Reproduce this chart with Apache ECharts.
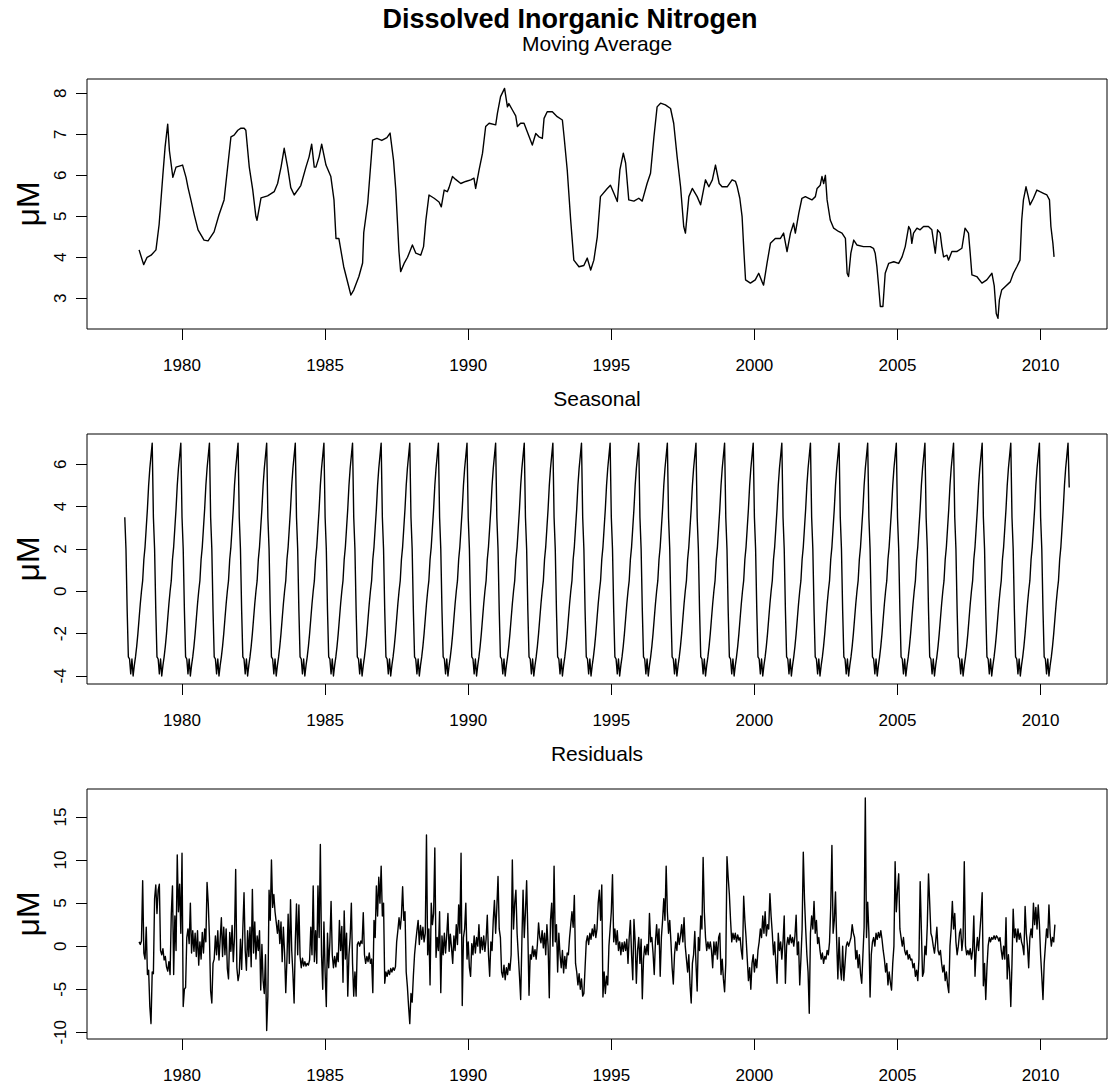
<!DOCTYPE html>
<html>
<head>
<meta charset="utf-8">
<title>Dissolved Inorganic Nitrogen</title>
<script src="https://cdn.jsdelivr.net/npm/echarts@6/dist/echarts.min.js"></script>
<style>
  html, body { margin: 0; padding: 0; background: #fff; }
  #chart { width: 1112px; height: 1089px; }
</style>
</head>
<body>
<div id="chart"></div>
<script>
// ---- Tick labels ----
const xTicks = [1980, 1985, 1990, 1995, 2000, 2005, 2010];
const maTicks = [3, 4, 5, 6, 7, 8];
const seasonalTicks = [-4, -2, 0, 2, 4, 6];
const residualTicks = [-10, -5, 0, 5, 10, 15];

// ---- Moving average (year, µM) ----
const movingAverage = [
  [1978.50,4.18],[1978.66,3.82],[1978.78,4.00],[1978.92,4.05],[1979.09,4.18],[1979.20,4.80],[1979.33,6.00],[1979.41,6.70],[1979.50,7.25],[1979.56,6.60],[1979.68,5.95],[1979.79,6.20],[1980.02,6.25],[1980.14,5.95],[1980.21,5.70],[1980.31,5.40],[1980.43,5.03],[1980.56,4.67],[1980.77,4.42],[1980.91,4.40],
  [1981.12,4.62],[1981.29,5.03],[1981.47,5.40],[1981.61,6.30],[1981.71,6.94],[1981.82,6.98],[1981.95,7.10],[1982.06,7.15],[1982.17,7.15],[1982.23,7.10],[1982.35,6.20],[1982.47,5.65],[1982.58,5.00],[1982.62,4.90],[1982.76,5.45],[1982.99,5.50],
  [1983.22,5.60],[1983.34,5.80],[1983.46,6.20],[1983.57,6.66],[1983.69,6.20],[1983.80,5.70],[1983.92,5.52],[1984.15,5.75],[1984.33,6.20],[1984.44,6.45],[1984.53,6.76],[1984.62,6.20],[1984.68,6.20],[1984.79,6.45],[1984.88,6.76],[1985.03,6.25],[1985.20,5.97],[1985.31,5.40],[1985.38,4.46],[1985.48,4.46],[1985.65,3.77],[1985.90,3.08],
  [1986.00,3.20],[1986.18,3.53],[1986.31,3.86],[1986.35,4.60],[1986.49,5.33],[1986.66,6.86],[1986.81,6.90],[1986.98,6.85],[1987.16,6.92],[1987.27,7.03],[1987.39,6.37],[1987.47,5.64],[1987.53,4.83],[1987.58,4.14],[1987.64,3.65],[1987.76,3.85],[1987.88,4.00],
  [1988.05,4.30],[1988.17,4.10],[1988.34,4.05],[1988.44,4.26],[1988.52,4.90],[1988.63,5.52],[1988.81,5.44],[1988.98,5.35],[1989.06,5.23],[1989.16,5.64],[1989.27,5.60],[1989.33,5.70],[1989.45,5.97],[1989.56,5.90],[1989.74,5.80],[1989.91,5.85],
  [1990.09,5.89],[1990.20,5.93],[1990.26,5.68],[1990.38,6.13],[1990.50,6.54],[1990.61,7.19],[1990.73,7.27],[1990.96,7.23],[1991.02,7.51],[1991.13,7.92],[1991.27,8.12],[1991.37,7.67],[1991.42,7.75],[1991.54,7.60],[1991.66,7.45],[1991.72,7.19],[1991.83,7.27],[1991.95,7.27],
  [1992.07,7.05],[1992.24,6.74],[1992.36,7.02],[1992.47,6.94],[1992.59,6.90],[1992.65,7.39],[1992.76,7.55],[1992.94,7.55],[1993.11,7.43],[1993.29,7.35],[1993.35,6.94],[1993.46,6.13],[1993.58,4.91],[1993.69,3.93],[1993.87,3.77],
  [1994.04,3.80],[1994.16,3.98],[1994.28,3.69],[1994.39,3.93],[1994.51,4.50],[1994.62,5.48],[1994.86,5.68],[1994.97,5.76],[1995.09,5.56],[1995.21,5.36],[1995.30,6.13],[1995.42,6.54],[1995.50,6.30],[1995.61,5.40],[1995.79,5.37],[1995.96,5.44],
  [1996.08,5.37],[1996.25,5.80],[1996.37,6.05],[1996.49,6.94],[1996.60,7.67],[1996.72,7.76],[1996.89,7.72],[1997.07,7.63],[1997.18,7.27],[1997.30,6.45],[1997.42,5.72],[1997.53,4.75],[1997.59,4.59],[1997.71,5.48],[1997.83,5.68],
  [1998.00,5.48],[1998.12,5.28],[1998.29,5.89],[1998.41,5.72],[1998.53,5.89],[1998.64,6.25],[1998.77,5.80],[1998.87,5.72],[1999.05,5.72],[1999.22,5.89],[1999.34,5.85],[1999.40,5.72],[1999.49,5.44],[1999.57,4.99],[1999.63,4.18],[1999.69,3.45],[1999.86,3.37],
  [2000.03,3.45],[2000.15,3.61],[2000.27,3.40],[2000.32,3.32],[2000.44,3.85],[2000.56,4.34],[2000.73,4.46],[2000.91,4.46],[2001.02,4.59],[2001.14,4.14],[2001.26,4.59],[2001.37,4.83],[2001.43,4.59],[2001.55,5.07],[2001.66,5.44],[2001.78,5.48],[2001.90,5.44],
  [2002.01,5.40],[2002.13,5.48],[2002.19,5.68],[2002.30,5.76],[2002.36,5.97],[2002.42,5.80],[2002.48,6.00],[2002.54,5.40],[2002.65,4.91],[2002.77,4.71],[2002.94,4.63],[2003.06,4.59],[2003.18,4.46],[2003.24,3.61],[2003.29,3.53],[2003.37,4.10],[2003.47,4.42],[2003.58,4.30],[2003.81,4.26],
  [2004.05,4.26],[2004.16,4.22],[2004.22,4.10],[2004.28,3.77],[2004.34,3.30],[2004.40,2.80],[2004.49,2.80],[2004.57,3.61],[2004.69,3.85],[2004.87,3.89],[2005.04,3.85],[2005.16,4.01],[2005.27,4.26],[2005.39,4.75],[2005.45,4.67],[2005.50,4.34],[2005.56,4.59],[2005.68,4.71],[2005.79,4.67],[2005.91,4.75],
  [2006.08,4.75],[2006.20,4.67],[2006.32,4.10],[2006.40,4.67],[2006.49,4.59],[2006.55,4.26],[2006.61,4.01],[2006.73,4.05],[2006.78,3.93],[2006.90,4.14],[2007.07,4.14],[2007.25,4.22],[2007.36,4.71],[2007.48,4.59],[2007.54,4.10],[2007.60,3.57],[2007.77,3.53],[2007.95,3.37],
  [2008.12,3.45],[2008.30,3.61],[2008.38,3.30],[2008.45,2.63],[2008.51,2.51],[2008.56,2.96],[2008.64,3.20],[2008.76,3.28],[2008.94,3.40],[2009.05,3.61],[2009.17,3.77],[2009.28,3.93],[2009.34,4.91],[2009.40,5.40],[2009.49,5.72],[2009.57,5.48],[2009.63,5.28],[2009.75,5.44],[2009.87,5.64],[2009.98,5.60],
  [2010.10,5.56],[2010.22,5.52],[2010.31,5.40],[2010.36,4.75],[2010.43,4.34],[2010.47,4.01]
];

// ---- Seasonal component: one year of half-month values, the same every year ----
const seasonalCycle = [3.5, 2.0, -0.9, -3.1, -3.2, -3.9, -3.2, -4.0, -3.5, -3.1, -2.6, -2.0,
                       -1.3, -0.6, 0.0, 0.5, 1.5, 2.1, 3.0, 3.9, 5.0, 5.8, 6.4, 7.0];
const seasonalFirstYear = 1978;
const seasonalLastYear = 2010;
const seasonalFinal = 4.9;   // value at the start of 2011

// ---- Residuals, half-monthly from mid-1978 (one row per year) ----
const residualStart = 1978.5;
const residualsPerYear = 24;
const residuals = [
  0.5,0.2,0.6,7.6,-0.8,-1.5,2.2,-3.3,-2.8,-7.0,-9.0,-3.0,-3.2,5.5,7.1,3.8,6.5,7.2,-0.5,-1.0,-0.3,-1.6,-1.2,-2.4,
  -2.9,-1.8,-3.3,3.7,7.0,-3.3,3.5,-0.5,10.6,4.0,7.2,1.5,10.8,-7.0,-5.0,-4.8,1.0,2.0,0.3,5.0,-0.8,1.8,-0.6,1.5,
  -1.2,1.8,-2.2,0.5,-1.5,1.6,-0.8,2.0,0.5,7.4,5.0,1.0,-5.2,-6.6,-2.0,-1.5,1.2,-1.0,1.8,-1.6,0.8,3.3,-1.2,2.2,
  -1.0,2.0,-2.6,-3.8,1.6,-0.6,2.4,-1.8,1.0,8.9,-2.5,-4.0,-3.2,0.8,-2.7,2.0,6.2,-0.5,-2.8,1.8,-1.2,2.2,-2.4,6.6,
  -0.8,2.8,-1.5,1.2,-0.5,1.8,-5.1,0.2,-4.0,-5.5,-1.0,-9.8,-5.8,6.5,3.0,10.0,4.5,6.0,4.0,2.8,1.5,3.0,0.3,2.8,
  -1.8,2.2,-0.8,-5.4,-1.5,3.7,-2.0,5.4,-0.5,-3.2,-6.6,0.5,4.9,-1.0,4.8,-1.2,-2.5,-1.4,-2.3,-1.8,-2.3,-2.0,-2.2,-1.6,
  2.2,-1.0,7.0,-1.8,1.8,-2.0,7.0,1.0,11.8,-1.0,-5.0,2.8,-3.0,-7.0,1.5,-2.5,0.5,5.2,-1.0,-2.5,-1.2,-2.4,-0.8,-1.8,
  3.0,-0.5,2.3,-4.2,4.1,-1.5,1.5,-5.8,-1.0,1.0,5.0,-2.0,-5.8,-3.0,-5.8,0.2,0.5,0.0,0.6,0.3,3.9,-1.0,-2.0,-1.2,
  -1.8,-0.8,-2.0,-1.5,-5.4,3.0,1.0,7.0,3.5,8.0,5.0,9.3,3.5,5.0,-4.3,-3.0,-3.5,-2.8,-3.3,-2.6,-3.0,-2.5,-2.8,-2.4,
  0.5,1.8,3.3,2.0,3.5,6.9,3.0,4.0,-3.0,-4.7,-7.0,-9.0,-5.5,-6.5,-3.5,-1.0,0.5,1.8,3.0,0.2,2.4,0.8,2.2,0.5,
  1.5,12.9,-1.0,2.0,-4.5,5.0,2.5,3.8,11.4,-1.3,1.0,-0.5,4.0,-5.4,1.2,-1.0,1.5,-0.8,1.3,3.8,-0.6,1.4,-0.2,-2.0,
  1.2,-0.5,2.5,0.2,4.8,1.5,10.8,-6.9,1.0,2.0,5.0,-1.5,0.5,-2.5,-3.5,0.3,-1.0,1.2,-0.8,1.0,0.0,2.5,-0.8,1.0,
  -0.4,1.2,-0.6,0.8,3.6,-1.0,-3.5,0.5,-0.5,3.0,5.3,1.5,4.5,8.1,2.0,1.0,-3.0,-3.6,-2.2,-3.9,-2.5,-3.3,-2.0,-2.8,
  -1.0,10.0,2.0,5.0,6.5,1.5,-1.0,-3.5,-6.2,0.5,6.5,1.0,4.0,7.6,1.5,-5.7,-1.0,-1.5,0.0,-1.2,-0.4,-1.5,0.2,2.7,
  1.0,0.4,1.8,-0.2,1.5,-1.0,2.5,0.0,-6.0,3.0,5.0,0.0,9.3,0.5,2.5,-3.0,1.5,-1.0,-2.5,-0.5,-3.1,-1.2,-2.6,-0.8,
  -1.0,1.0,2.5,4.0,2.2,5.9,-2.0,-3.0,-4.5,-3.2,-5.0,-3.8,-5.8,-5.5,-2.5,0.5,1.2,0.2,1.5,0.8,2.0,1.2,2.5,1.0,
  2.0,5.0,6.5,3.0,7.1,-5.9,-3.0,-5.5,-3.5,-4.5,0.0,2.0,4.0,8.3,0.5,2.0,0.2,1.8,-0.5,0.5,-1.0,0.4,-0.6,0.5,
  -0.5,0.8,-2.0,1.0,3.0,-1.0,-3.9,3.1,0.5,-4.3,-0.5,1.0,-2.0,0.8,-6.1,-1.5,0.0,-1.0,0.2,-1.0,3.8,0.5,1.0,-0.8,
  -3.3,0.5,2.5,0.2,2.0,-3.5,1.0,3.0,5.5,3.0,9.3,4.0,1.5,3.0,0.5,-2.5,-4.4,-1.0,0.5,-0.5,1.5,0.2,1.2,2.5,
  0.5,3.3,0.0,-1.5,-3.0,-1.0,-4.5,-6.6,-2.0,-1.0,1.7,-2.0,-5.2,1.0,-0.5,3.5,2.0,10.3,4.0,1.0,-0.5,0.5,-0.3,0.5,
  -0.5,-2.5,0.5,-1.0,0.5,-1.5,1.0,1.5,-3.3,-1.5,-3.8,-5.3,-2.0,10.4,8.0,6.0,3.0,0.5,1.5,0.8,1.5,0.5,1.3,0.7,
  1.0,-0.5,-1.5,5.8,3.0,1.0,-1.5,-4.0,-2.5,-5.0,-2.0,-1.0,-3.0,-1.5,-2.5,-0.5,0.5,2.0,1.0,3.5,1.5,4.0,1.2,2.5,
  2.0,6.1,3.5,1.5,-1.0,0.5,-2.0,-4.3,1.5,-0.5,0.5,-1.5,0.5,3.5,-4.3,0.0,1.0,0.2,1.3,0.4,1.0,0.0,1.2,3.6,
  -1.0,0.5,-4.5,-1.5,2.0,10.9,5.5,2.0,-1.0,-3.0,-7.8,1.5,3.5,2.0,5.2,1.5,3.0,0.3,1.0,-0.5,-1.5,-0.8,-2.0,-1.2,
  -1.5,-0.5,-1.0,0.5,4.5,11.7,1.5,3.0,6.3,0.5,-3.8,1.0,-2.5,-3.9,0.0,-4.0,-2.0,0.0,0.5,0.0,0.5,1.0,2.5,1.5,
  1.0,-1.5,-0.5,-2.5,-1.0,-3.2,-4.3,-1.0,2.2,17.2,1.0,5.1,1.5,-5.9,-1.0,0.5,1.0,0.0,1.5,0.8,1.6,1.0,1.8,0.8,
  -0.5,-1.5,-3.0,-2.0,-4.5,-3.0,-4.2,-5.1,-2.0,0.0,9.8,4.0,6.5,8.4,2.0,1.0,0.0,1.0,-0.5,-1.0,-0.5,-1.5,-1.0,-1.6,
  -1.5,-2.5,-2.0,-3.5,-2.8,-4.0,-1.5,7.5,2.0,-3.5,-3.0,0.0,-1.0,2.5,8.4,5.0,1.5,1.0,0.0,-0.8,0.5,2.2,-0.5,-1.0,
  -0.5,-2.0,-3.0,-2.2,-4.0,-3.0,-4.5,-5.4,0.0,2.0,5.2,2.0,3.8,0.5,-1.0,0.0,1.5,2.0,-0.5,1.0,9.8,0.0,-1.0,-0.5,
  -1.0,-0.3,-1.5,-0.5,3.5,-3.5,-0.5,1.0,-0.5,1.5,3.5,6.2,-4.6,-2.0,-6.2,-2.5,0.0,1.0,0.5,1.0,0.8,1.2,0.8,1.2,
  1.0,0.6,1.0,-0.5,-1.5,0.0,-1.5,3.3,-3.8,-1.0,-3.0,-7.0,-2.0,4.3,1.0,2.0,0.5,2.0,0.8,1.5,0.5,0.0,-1.0,4.6,
  1.5,0.0,-2.5,1.0,2.0,1.0,5.0,2.5,4.5,2.0,4.8,2.5,-1.0,-3.5,-6.2,-2.0,0.0,2.0,1.0,4.8,1.5,0.0,1.0,0.5,
  2.5
];

// ---- Build [year, value] series ----
const seasonalData = [];
for (let y = seasonalFirstYear; y <= seasonalLastYear; y++) {
  seasonalCycle.forEach((v, k) => seasonalData.push([y + k / seasonalCycle.length, v]));
}
seasonalData.push([seasonalLastYear + 1, seasonalFinal]);

const residualData = residuals.map((v, i) => [residualStart + i / residualsPerYear, v]);

// ---- Layout ----
const FONT = '"Liberation Sans", Arial, Helvetica, sans-serif';
const X_MIN = 1976.68, X_MAX = 2012.32;
const PLOT_LEFT = 87, PLOT_WIDTH = 1020, PLOT_HEIGHT = 250;

const panels = [
  { name: 'Moving Average', top: 79,  yMin: 2.25,  yMax: 8.35,  ticks: maTicks,       data: movingAverage },
  { name: 'Seasonal',       top: 434, yMin: -4.38, yMax: 7.43,  ticks: seasonalTicks, data: seasonalData },
  { name: 'Residuals',      top: 789, yMin: -10.78, yMax: 18.25, ticks: residualTicks, data: residualData }
];

const chart = echarts.init(document.getElementById('chart'), null, { renderer: 'svg' });

const option = {
  animation: false,
  backgroundColor: '#fff',
  title: [
    {
      text: 'Dissolved Inorganic Nitrogen',
      left: 570, top: 5, textAlign: 'center', padding: 0,
      textStyle: { fontFamily: FONT, fontSize: 27, fontWeight: 'bold', color: '#000' }
    }
  ].concat(panels.map(p => ({
    text: p.name,
    left: PLOT_LEFT + PLOT_WIDTH / 2, top: p.top - 46, textAlign: 'center', padding: 0,
    textStyle: { fontFamily: FONT, fontSize: 21, fontWeight: 'normal', color: '#000' }
  }))),
  grid: panels.map(p => ({
    left: PLOT_LEFT, top: p.top, width: PLOT_WIDTH, height: PLOT_HEIGHT,
    show: true, borderColor: '#000', borderWidth: 1, backgroundColor: 'transparent'
  })),
  xAxis: panels.map((p, i) => ({
    gridIndex: i, type: 'value', min: X_MIN, max: X_MAX,
    axisLine: { show: false, onZero: false },
    splitLine: { show: false },
    axisTick: { show: true, length: 11, customValues: xTicks, lineStyle: { color: '#000', width: 1 } },
    axisLabel: {
      show: true, customValues: xTicks, margin: 28,
      formatter: v => String(v),
      fontFamily: FONT, fontSize: 17, color: '#000'
    }
  })),
  yAxis: panels.map((p, i) => ({
    gridIndex: i, type: 'value', min: p.yMin, max: p.yMax,
    name: 'μM', nameLocation: 'middle', nameRotate: 90, nameGap: 42,
    nameTextStyle: { fontFamily: FONT, fontSize: 32, color: '#000' },
    axisLine: { show: false, onZero: false },
    splitLine: { show: false },
    axisTick: { show: true, length: 11, customValues: p.ticks, lineStyle: { color: '#000', width: 1 } },
    axisLabel: {
      show: true, customValues: p.ticks, rotate: 90, margin: 18,
      formatter: v => String(v),
      fontFamily: FONT, fontSize: 17, color: '#000'
    }
  })),
  series: panels.map((p, i) => ({
    name: p.name,
    type: 'line',
    xAxisIndex: i, yAxisIndex: i,
    data: p.data,
    showSymbol: false,
    symbol: 'none',
    clip: true,
    lineStyle: { color: '#000', width: 1.4, join: 'round' }
  }))
};

chart.setOption(option);
</script>
</body>
</html>
